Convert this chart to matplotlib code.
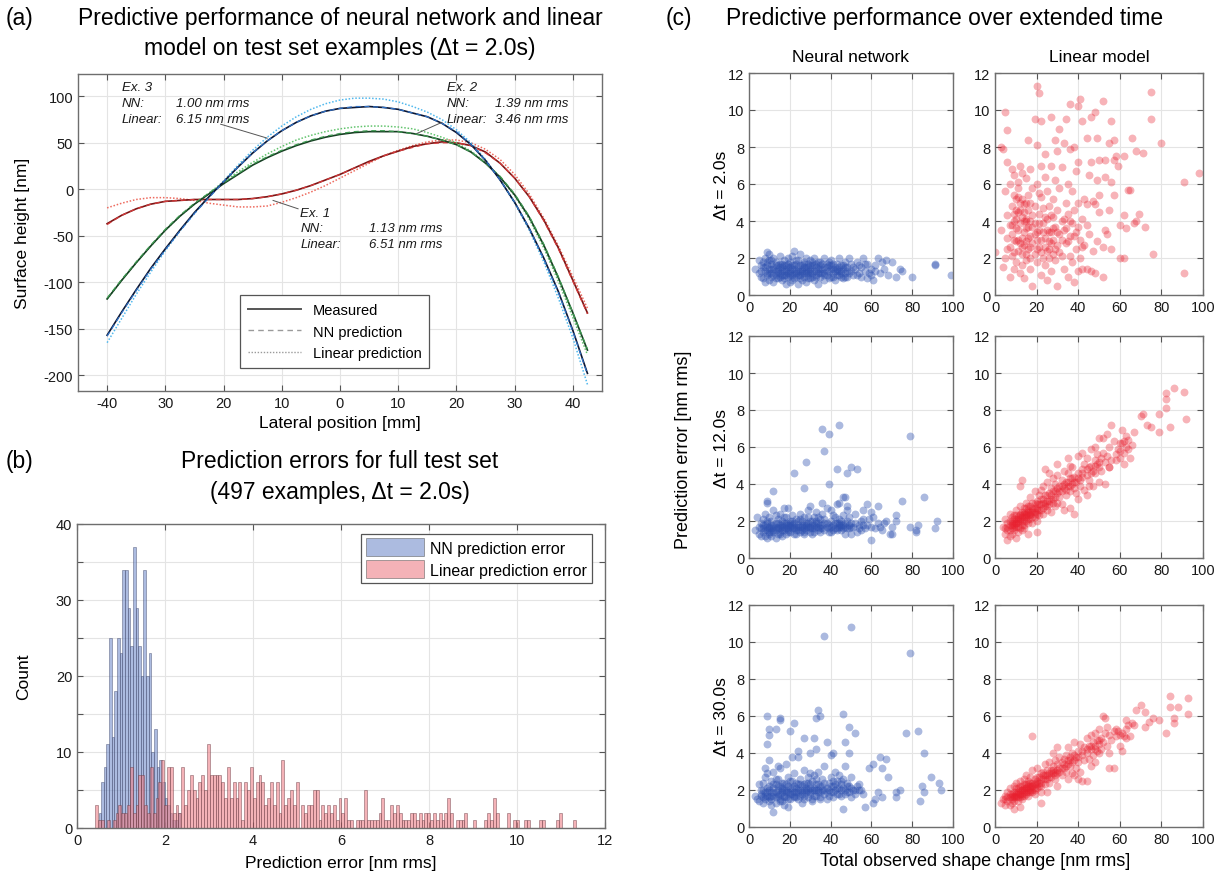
import numpy as np
import matplotlib
matplotlib.use("Agg")
import matplotlib.pyplot as plt
from matplotlib.patches import Patch
from matplotlib.lines import Line2D

plt.rcParams['font.family'] = ['Liberation Sans', 'DejaVu Sans']
plt.rcParams['axes.unicode_minus'] = False

# ---- (a) surface profiles, lateral position in mm, height in nm ----
pos = [-40, -37.5, -35, -32.5, -30, -27.5, -25, -22.5, -20, -17.5, -15, -12.5, -10, -7.5, -5, -2.5,
       0, 2.5, 5, 7.5, 10, 12.5, 15, 17.5, 20, 22.5, 25, 27.5, 30, 32.5, 35, 37.5, 40, 42.5]

ex1_meas = [-37, -28, -21, -16, -13, -12, -11, -11, -11, -11, -10, -8, -5, -1, 4, 10,
            16, 23, 30, 36, 41, 46, 49, 51, 50, 47, 40, 28, 12, -8, -33, -63, -98, -133]
ex1_nn = [-38, -28, -21, -16, -13, -12, -11, -11, -11, -11, -10, -8, -5, -1, 4, 10,
          16, 23, 29, 36, 41, 45, 49, 50, 50, 47, 39, 28, 12, -8, -34, -64, -99, -134]
ex1_lin = [-20, -15, -11, -9, -9, -10, -12, -15, -17, -19, -19, -18, -14, -9, -3, 4,
           12, 20, 28, 36, 42, 47, 51, 53, 53, 50, 43, 32, 16, -5, -31, -61, -94, -128]

ex2_meas = [-118, -98, -79, -61, -44, -29, -16, -5, 6, 16, 26, 34, 41, 47, 52, 56,
            59, 61, 62, 62, 62, 60, 57, 53, 48, 40, 28, 13, -6, -30, -60, -95, -133, -173]
ex2_nn = [-117, -97, -78, -60, -43, -28, -15, -4, 7, 17, 27, 35, 42, 48, 53, 57,
          60, 62, 63, 63, 62, 60, 57, 53, 48, 40, 28, 14, -5, -29, -59, -94, -133, -172]
ex2_lin = [-118, -98, -79, -61, -44, -29, -16, -4, 8, 19, 29, 38, 46, 53, 58, 62,
           65, 67, 68, 68, 67, 65, 61, 56, 50, 41, 29, 13, -7, -32, -63, -99, -138, -178]

ex3_meas = [-157, -132, -108, -85, -64, -44, -25, -8, 8, 24, 39, 52, 63, 72, 79, 84,
            87, 88, 89, 88, 86, 82, 78, 71, 61, 48, 31, 10, -14, -42, -74, -110, -152, -198]
ex3_nn = [-158, -133, -109, -86, -65, -45, -26, -9, 8, 24, 39, 52, 63, 72, 79, 84,
          87, 89, 89, 88, 86, 82, 78, 71, 62, 48, 31, 10, -14, -42, -75, -111, -153, -199]
ex3_lin = [-165, -139, -113, -89, -66, -45, -26, -8, 9, 26, 42, 56, 68, 78, 86, 92,
           96, 98, 98, 97, 94, 89, 83, 75, 64, 50, 32, 10, -15, -44, -78, -117, -160, -210]

pos_ticks = [-40, -30, -20, -10, 0, 10, 20, 30, 40]
pos_ticklabels = ['-40', '30', '20', '10', '0', '10', '20', '30', '40']

# ---- (b) histogram counts ----
nn_bin_start, nn_bin_w = 0.49, 0.06
nn_counts = [2, 6, 8, 11, 25, 12, 18, 25, 23, 34, 34, 29, 24, 37, 29, 24, 20, 34, 20, 23,
             10, 13, 8, 9, 6, 4, 3, 2, 1, 1, 2]
lin_bin_start, lin_bin_w = 0.42, 0.065
lin_counts = [3, 1, 1, 0, 1, 0, 1, 2, 3, 2,
              2, 3, 8, 2, 3, 7, 7, 3, 2, 8,
              2, 4, 6, 9, 3, 8, 8, 2, 3, 2,
              8, 3, 5, 7, 5, 4, 6, 7, 5, 11,
              7, 7, 7, 7, 6, 4, 8, 4, 6, 4,
              6, 1, 6, 5, 8, 4, 6, 7, 6, 3,
              4, 6, 3, 6, 2, 9, 3, 4, 5, 3,
              6, 0, 3, 2, 3, 3, 5, 5, 1, 3,
              2, 3, 2, 3, 1, 4, 2, 4, 1, 1,
              0, 1, 1, 1, 5, 1, 1, 1, 1, 2,
              4, 1, 1, 3, 2, 3, 2, 1, 1, 1,
              2, 2, 1, 2, 1, 2, 2, 1, 2, 1,
              2, 1, 2, 4, 2, 0, 1, 1, 1, 2,
              0, 0, 1, 0, 0, 0, 1, 2, 1, 4,
              2, 0, 0, 0, 2, 0, 1, 1, 0, 0,
              1, 1, 0, 0, 0, 1, 1, 0, 0, 0,
              0, 1, 2, 0, 0, 0, 0, 1]

# ---- (c) scatter: pairs of (total shape change, prediction error) ----
nn_2s = """3 1.4 5 1.9 5 1.2 6 1.6 6 1.0 7 1.5 7 0.9 7 1.8 8 1.3 8 0.7 8 2.0 9 1.1 9 1.6 9 2.3 10 1.4
10 0.8 10 1.9 10 2.2 11 1.2 11 1.7 11 1.0 12 1.5 12 0.7 12 2.0 13 1.3 13 1.1 13 1.8 14 1.6 14 0.9
14 1.4 15 1.2 15 2.1 15 1.0 16 1.5 16 1.7 16 0.8 17 1.3 17 1.9 17 1.1 18 1.4 18 0.6 18 1.6 19 1.2
19 2.0 19 1.0 20 1.5 20 0.7 20 1.8 20 1.3 21 1.1 21 1.6 21 2.1 22 1.4 22 0.9 22 2.4 23 1.2 23 1.7
23 1.0 24 1.5 24 0.6 24 1.9 25 1.3 25 1.1 25 2.2 26 1.6 26 0.8 26 1.4 27 1.2 27 1.8 27 1.0 28 1.5
28 0.7 28 2.0 29 1.3 29 1.1 29 1.7 30 1.4 30 0.9 30 1.9 30 1.2 31 1.6 31 1.0 32 1.3 32 2.0 32 0.8
33 1.5 33 1.1 34 1.2 34 1.8 34 0.6 35 1.4 35 1.0 36 1.7 36 1.2 37 1.5 37 0.8 37 2.0 38 1.3 38 1.1
39 1.6 39 0.9 40 1.4 40 1.9 40 1.0 41 1.2 42 1.5 42 0.8 43 1.7 43 1.1 44 1.3 44 2.0 45 1.0 45 1.6
46 1.4 46 0.9 47 1.8 47 1.2 48 1.5 48 1.0 49 2.0 50 1.3 50 1.7 51 1.1 52 1.4 53 1.8 54 1.2 55 1.5
55 1.0 56 2.0 57 1.3 58 0.9 58 1.7 60 1.4 60 1.1 61 0.8 62 1.6 63 2.0 64 1.2 65 1.8 66 1.4 67 1.9
68 1.1 70 1.8 72 1.0 74 1.4 75 1.3 80 1.0 91 1.7 91 1.6 99 1.1 12 1.4 14 1.2 16 1.3 18 1.1 22 1.2
24 1.3 26 1.2 28 1.3 33 1.3 35 1.2 38 1.5 41 1.4 44 1.5 10 1.2 20 1.1 30 1.6
6 1.3 8 1.5 9 1.2 11 1.4 12 1.1 13 1.6 14 1.3 15 1.5 16 1.1 17 1.6 18 1.3 19 1.5 20 1.2 21 1.4
22 1.6 23 1.3 24 1.1 25 1.6 26 1.3 27 1.5 28 1.2 29 1.5 30 1.3 31 1.2 32 1.6 33 1.0 34 1.4 35 1.6
36 1.4 37 1.2 38 1.7 39 1.3 40 1.6 41 1.0 42 1.3 43 1.4 44 1.1 45 1.3 46 1.6 47 1.5 48 1.3 9 1.8
11 1.9 13 0.9 15 1.7 17 0.9 19 1.7 21 0.8 23 1.9 25 0.9 27 1.7 29 0.9 31 1.8 33 1.7 35 1.8 37 1.1
39 1.8 41 1.7 43 1.3 45 1.2 47 1.0 49 1.2 51 1.5 53 1.1 54 1.6 57 1.7 59 1.2 62 1.3"""

lin_2s = """0 2.3 3 3.5 3 8.0 4 1.5 4 7.9 5 2.0 5 9.9 5 5.6 6 3.1 6 8.9 6 7.2 6 4.3 7 2.6 7 6.0 7 3.8 7 1.0
8 4.8 8 2.1 8 6.8 8 3.3 9 5.4 9 1.4 9 4.0 9 6.5 10 2.9 10 5.2 10 3.6 10 1.8 11 4.5 11 2.4 11 6.1
11 3.0 12 5.0 12 1.2 12 3.9 12 7.0 13 2.2 13 4.2 13 6.6 13 1.6 14 3.4 14 4.9 14 0.9 14 2.7 15 4.1
15 6.3 15 1.9 15 3.6 16 5.4 16 2.5 16 4.6 16 8.4 17 3.2 17 1.4 17 6.8 17 4.0 18 2.8 18 5.8 18 0.5
18 3.7 19 4.8 19 9.5 19 2.2 19 3.3 20 3.0 20 6.0 20 1.8 20 11.3 20 8.1 21 4.4 21 2.6 21 10.9
21 3.5 22 5.3 22 1.1 22 7.0 22 9.4 23 3.9 23 2.0 23 4.7 24 3.1 24 6.4 24 1.6 24 7.6 25 4.1 25 2.4
25 5.6 25 0.8 26 3.4 26 4.8 26 2.9 27 7.0 27 4.3 27 1.3 27 9.6 28 3.0 28 5.2 28 2.2 29 6.2 29 3.7
29 8.4 29 1.9 30 4.6 30 2.7 30 7.8 30 0.5 31 3.3 31 5.8 31 9.0 32 4.0 32 2.1 32 6.9 33 3.5 33 8.2
33 1.4 34 5.0 34 2.8 34 9.5 35 4.4 35 1.0 35 6.0 36 3.2 36 10.3 36 7.9 36 2.1 37 5.6 37 1.8 37 3.9
38 8.0 38 4.6 38 0.7 39 2.5 39 6.7 39 3.4 40 10.2 40 1.3 40 5.0 40 7.2 41 10.6 41 3.0 41 2.0
42 4.1 42 9.4 42 1.4 43 5.2 43 2.7 44 4.9 44 8.5 44 1.4 45 6.5 45 3.3 46 7.2 46 9.6 46 1.3 47 5.1
47 2.4 48 4.9 48 9.9 48 1.2 49 8.5 49 6.2 49 2.9 50 5.4 50 7.3 50 4.5 52 10.5 52 1.0 52 2.6
53 7.3 53 6.4 53 3.5 54 3.3 55 4.6 55 8.2 56 9.4 56 6.1 56 2.5 57 7.3 57 5.4 57 8.4 58 7.5 59 7.0
60 3.8 60 2.0 62 7.5 62 4.3 62 2.0 63 3.6 64 5.7 65 5.7 66 8.5 67 3.9 68 7.8 68 4.0 69 4.4 71 7.7
72 3.7 75 11.0 75 9.5 76 2.2 80 8.2 91 6.1 91 1.2 98 6.6 12 4.6 14 4.5 15 4.0 16 3.1 20 3.4 24 2.6
26 2.5 28 4.2 13 5.2 11 5.3 10 4.1 9 3.0 15 2.2 17 2.0 22 3.0 27 3.4
6 2.5 8 3.8 9 2.3 10 4.6 11 3.5 12 2.8 13 3.1 14 4.0 15 2.9 16 3.7 17 2.6 18 4.3 19 3.9 20 2.5
21 3.9 22 2.3 23 3.4 24 4.2 25 3.5 26 2.0 27 2.8 28 3.6 29 2.5 30 3.4 31 2.3 32 3.0 33 4.1 34 3.6
35 2.9 36 4.0 38 3.2 40 3.7 42 2.6 44 3.8 13 2.6 17 5.0 21 5.5 9 4.4 11 5.8 15 5.0"""

nn_12s = """3 1.5 4 2.2 5 1.3 5 1.7 6 1.9 6 1.2 7 1.6 7 2.1 7 1.4 8 1.8 8 1.2 8 2.4 9 1.5 9 1.9 9 1.1
10 1.7 10 2.2 10 1.3 11 1.6 11 2.0 11 1.2 12 1.8 12 1.4 12 2.6 13 1.5 13 1.9 13 1.1 14 2.1 14 1.6
14 1.3 15 1.8 15 2.4 15 1.4 16 1.7 16 2.0 16 1.2 17 1.5 17 2.7 17 1.9 18 1.6 18 2.2 18 1.3 19 1.8
19 2.7 19 1.5 20 2.0 20 1.4 20 1.7 21 1.6 21 2.3 22 1.9 22 1.3 23 1.7 23 2.1 24 1.5 24 1.8 25 2.4
25 1.4 26 1.7 26 2.0 27 1.6 27 2.2 27 1.3 28 1.9 28 1.5 29 2.6 29 1.7 30 2.0 30 1.4 30 2.8 31 1.8
31 1.6 32 2.2 32 1.4 33 1.7 33 2.5 34 1.9 34 1.5 35 2.1 35 1.6 36 1.8 36 2.4 37 1.5 38 1.9 38 2.7
39 1.6 40 2.0 40 1.4 41 1.8 42 2.2 42 1.6 43 1.9 43 2.9 44 1.7 44 2.1 45 1.5 45 2.0 46 1.8 46 2.3
47 1.3 47 1.9 48 1.6 48 2.6 49 1.8 49 2.2 50 1.9 51 1.7 52 2.4 53 1.4 54 1.8 55 2.0 56 2.1 57 1.6
58 1.8 59 2.1 60 1.0 60 1.7 61 2.2 62 1.6 63 1.9 64 1.7 65 1.5 66 1.9 67 2.0 70 1.3 70 1.7 72 2.3
79 1.7 82 1.5 82 1.4 83 1.8 91 1.6 92 2.0 36 7.0 44 7.2 39 6.7 79 6.6 37 5.8 28 5.2 43 4.8 50 4.9
53 4.8 48 4.6 22 4.6 27 3.8 39 4.0 12 3.6 9 3.0 9 3.1 36 3.0 46 3.3 47 3.3 75 3.1 86 3.3 58 2.9
63 2.8 40 2.6 44 3.0 48 2.8 56 2.6 60 2.5 69 1.3 72 2.0 55 1.5 50 1.3 14 1.7 16 1.8 18 1.9 20 1.8
22 1.6 24 1.7 28 1.8 30 1.7 32 1.8 34 1.7 12 1.6 10 1.6 26 1.8 44 1.9 45 1.8
6 1.6 7 1.8 8 1.5 9 1.7 10 1.4 11 1.8 12 1.5 13 1.7 14 1.9 15 1.6 16 1.5 17 1.7 18 1.8 19 1.6
20 1.9 21 1.8 22 1.7 23 1.5 24 2.0 25 1.7 26 1.5 27 1.8 28 1.7 29 1.9 30 1.6 31 2.0 32 1.6 33 1.9
34 2.2 35 1.8 36 1.6 37 1.9 38 1.7 39 1.8 40 1.7 41 1.5 42 1.9 43 1.6 44 1.8 45 1.7 46 1.6 47 1.7
48 2.0 49 1.6 50 1.7 52 1.9 54 1.6 56 1.8 13 2.3 17 2.2 21 2.0 25 2.1 29 2.2 33 2.0 37 2.1 41 2.3
9 2.0 11 1.4 15 1.3 19 1.4 23 1.3 27 1.4 31 1.3 35 1.4 39 1.4 43 1.5"""

lin_12s = """4 1.7 5 2.1 5 1.3 6 1.5 6 1.9 6 1.0 7 1.8 7 1.2 7 2.4 8 1.6 8 2.0 8 1.3 9 1.9 9 2.3 9 1.5
10 2.1 10 1.7 10 2.6 11 1.4 11 2.2 11 1.9 12 2.3 12 1.6 12 2.8 13 2.0 13 2.5 13 1.5 14 2.2 14 2.7
14 1.8 15 2.4 15 2.0 15 3.0 16 2.6 16 1.9 16 2.3 17 2.1 17 2.8 17 3.3 18 2.5 18 1.9 18 3.0 19 2.7
19 2.2 19 3.6 20 2.4 20 3.1 20 2.0 21 2.9 21 3.4 21 2.3 22 2.6 22 3.7 22 3.2 23 3.0 23 2.4 23 3.9
24 2.8 24 3.4 25 3.1 25 4.1 25 2.6 26 3.5 26 2.9 26 4.6 27 3.2 27 3.8 27 2.5 28 3.6 28 3.0 28 4.3
29 3.3 29 4.0 29 2.8 30 3.5 30 4.5 30 3.0 31 3.9 31 3.3 32 4.2 32 3.6 32 2.9 33 4.7 33 3.8 34 3.4
34 4.1 35 3.9 35 4.6 36 3.6 36 4.3 36 2.7 37 4.0 37 4.9 38 3.8 38 4.4 39 4.1 39 3.5 40 4.6 40 5.5
41 4.2 41 3.9 42 4.8 42 4.4 43 5.1 43 3.7 44 4.5 44 5.4 45 4.9 45 4.2 46 5.0 46 5.9 47 4.7 47 3.9
48 5.3 48 4.6 49 5.1 49 5.6 50 4.9 50 6.5 51 5.4 51 4.7 52 5.7 53 4.0 53 5.2 54 5.5 55 6.0 55 4.9
56 5.3 57 6.3 58 5.6 59 5.9 60 5.4 61 6.2 62 5.7 63 6.0 52 6.5 54 6.7 56 7.2 60 6.2 61 6.9 62 6.3
63 6.6 64 5.9 65 5.4 66 6.1 67 6.8 70 7.7 71 7.8 73 7.2 75 7.1 79 7.8 79 6.8 82 8.9 82 8.6 82 8.1
84 7.1 86 9.2 91 9.0 92 7.5 45 3.9 50 4.1 55 4.9 58 5.3 60 5.8 62 5.1 64 6.4 42 5.7 48 6.0 36 5.0
12 3.9 24 4.8 30 5.1 35 5.4 33 2.6 40 3.2 44 3.4 38 2.4 20 1.4 16 1.3 10 1.1 14 1.6 13 4.2 8 1.8
9 1.7 10 1.9 11 2.0 12 2.1 13 2.3 14 2.4 15 2.2 16 2.5 17 2.4 18 2.6 19 2.5 20 2.7
5 1.6 6 1.7 7 1.5 7 2.0 8 1.9 8 2.2 9 1.8 9 2.1 10 1.9 10 2.3 11 2.1 11 1.7 12 2.0 12 2.4 13 1.8
13 2.2 14 2.0 14 2.5 15 2.3 15 2.7 16 2.1 16 2.8 17 2.5 17 2.3 18 2.7 18 2.2 19 2.4 19 3.0 20 2.6
20 2.9 21 2.6 22 2.9 23 3.2 23 2.7 24 3.0 25 2.8 25 3.4 26 3.1 27 3.4 28 3.2 29 3.6 30 3.8 31 3.6
32 3.9 33 4.0 34 3.7 35 4.1 36 3.9 37 4.3 38 4.1 40 4.3 42 4.6 44 4.8 46 4.6 48 5.0 50 5.2"""

nn_30s = """3 1.7 4 1.5 5 2.3 5 1.4 6 2.0 6 1.8 7 1.6 7 2.4 7 1.3 8 1.9 8 2.7 8 1.5 9 2.1 9 1.7 9 2.9
10 1.6 10 2.2 10 1.4 11 1.9 11 2.5 11 1.2 12 1.7 12 2.1 12 3.0 13 1.6 13 2.3 13 1.3 14 2.0 14 1.8
14 2.6 15 1.5 15 2.2 15 3.2 16 1.9 16 1.4 16 2.4 17 1.7 17 2.0 17 1.2 18 2.3 18 3.4 18 1.6 19 1.9
19 2.7 19 1.1 20 2.1 20 1.5 20 2.5 21 1.8 21 3.8 22 2.2 22 1.6 22 2.9 23 1.9 23 2.4 24 1.5 24 2.0
25 2.6 25 1.7 26 2.2 26 1.3 27 2.0 27 3.1 27 1.7 28 2.4 28 1.9 29 2.7 29 1.6 30 2.1 30 2.9 30 1.8
31 2.5 31 1.5 32 2.0 32 2.8 33 1.7 33 2.3 34 3.0 34 1.9 35 2.2 35 1.6 36 2.6 36 2.0 37 1.8 37 3.3
38 2.1 38 1.5 39 2.4 40 1.9 40 2.7 41 2.2 41 1.6 42 2.0 42 3.0 43 2.5 43 1.8 44 2.1 44 2.8 45 1.7
45 2.3 46 2.6 47 2.0 47 3.3 48 1.9 48 2.4 49 2.2 50 1.6 50 2.7 51 2.0 52 1.8 53 2.2 54 2.0 55 2.0
56 1.8 37 10.3 50 10.8 79 9.4 9 6.0 15 5.9 15 5.8 22 5.6 34 6.3 33 5.9 35 6.0 46 6.1 49 5.4 52 5.1
10 5.3 13 5.3 10 5.0 20 5.2 77 5.1 83 5.2 9 4.5 27 4.8 32 4.8 38 4.6 47 4.6 30 4.0 33 4.2 40 3.9
41 4.0 49 4.0 86 4.0 24 4.1 24 3.8 14 3.3 10 3.6 8 3.2 59 3.2 64 3.8 67 3.7 61 3.4 65 3.2 89 2.7
93 2.4 94 2.0 85 2.2 86 1.9 84 1.4 72 1.9 72 1.6 74 2.0 68 2.7 65 1.6 63 1.9 61 1.3 62 1.5 57 1.1
46 1.0 12 0.8 16 2.0 18 1.9 20 1.8 22 1.9 26 1.9 28 2.0 30 1.9 32 2.1 12 1.9 14 1.7 24 1.9 34 2.0
6 1.7 7 2.0 8 1.7 9 1.9 10 2.0 11 1.7 12 2.3 13 1.9 14 2.2 15 1.8 16 2.1 17 1.6 18 2.0 19 2.2
20 1.9 21 2.1 22 1.7 23 2.1 24 2.3 25 2.0 26 1.8 27 2.3 28 2.1 29 2.0 30 2.3 31 2.0 32 1.7 33 2.0
34 2.3 35 1.9 36 2.2 37 2.0 38 1.9 39 2.0 40 2.2 41 1.9 42 2.3 43 2.1 44 1.8 45 2.0 46 2.1 47 1.8
48 2.2 49 1.9 50 2.1 52 2.0 54 2.3 11 1.5 15 1.4 19 1.5 23 1.6 27 1.5 31 1.4 35 1.5 39 1.7 13 2.6
17 2.4 21 2.5 25 2.3 29 2.4 33 2.6 37 2.4 41 2.5 45 2.5"""

lin_30s = """3 1.3 4 1.5 5 1.2 5 1.7 6 1.4 6 1.9 7 1.6 7 1.2 7 2.1 8 1.5 8 1.8 8 1.3 9 1.7 9 2.2 9 1.4
10 1.9 10 1.6 10 2.4 11 1.8 11 1.4 11 2.1 12 2.0 12 1.6 12 2.5 13 1.8 13 2.2 13 1.5 14 2.1 14 2.6
14 1.7 15 1.9 15 2.3 15 2.8 16 2.0 16 1.7 16 2.5 17 2.2 17 1.9 17 2.7 18 2.4 18 2.0 18 3.1 19 2.3
19 1.8 19 2.6 20 2.5 20 2.1 20 3.2 21 2.7 21 2.2 22 2.4 22 2.9 22 1.9 23 2.6 23 3.0 24 2.3 24 2.8
24 3.4 25 2.6 25 3.1 26 2.9 26 2.4 26 3.5 27 3.1 27 2.7 28 3.3 28 2.9 28 4.0 29 3.0 29 3.6 29 2.6
30 3.4 30 2.9 30 4.3 31 3.2 31 3.8 32 3.5 32 2.8 33 3.7 33 3.2 34 3.9 34 3.0 35 3.6 35 4.3 36 3.3
36 3.8 37 4.0 37 2.9 38 3.6 38 4.6 39 3.8 39 3.2 40 4.1 40 3.5 41 4.5 41 3.0 42 3.9 42 2.5 43 4.3
43 3.6 44 4.8 44 4.0 45 3.7 45 4.4 46 4.2 46 5.0 47 3.9 47 4.6 48 4.4 48 5.1 49 4.1 49 4.7 50 4.5
50 5.3 51 4.8 51 4.2 52 4.6 53 5.1 54 4.4 54 5.4 55 5.0 56 4.7 57 5.2 58 4.9 59 5.2 60 5.0 61 4.1
62 4.9 63 5.3 64 5.5 65 4.9 84 7.1 93 7.0 88 6.5 84 6.5 93 6.1 86 5.9 86 5.6 82 5.1 79 5.8 76 5.9
74 5.7 72 5.4 72 6.2 70 6.6 68 6.3 67 5.5 66 5.6 63 5.8 61 5.1 58 5.3 57 3.2 55 3.2 53 5.9 52 6.0
18 4.9 44 2.5 40 2.6 46 3.3 38 2.8 60 4.4 63 4.8 55 4.0 50 4.0 48 3.5 35 2.6 30 2.2 25 1.9 22 1.3
12 1.1 9 1.0 8 1.6 9 1.9 10 1.7 11 1.6 12 1.8 13 2.0 14 1.9 15 2.1 16 2.2 17 2.0 18 2.2 19 2.1
5 1.5 6 1.6 7 1.8 8 1.7 9 1.6 10 1.8 10 2.1 11 1.9 12 1.8 12 2.2 13 2.0 13 1.7 14 2.0 14 2.3 15 2.1
15 1.8 16 2.3 16 1.9 17 2.1 17 2.4 18 2.2 18 1.9 19 2.4 19 2.0 20 2.3 20 2.7 21 2.4 22 2.6 22 2.2
23 2.8 24 2.6 25 2.8 26 2.7 27 2.9 28 3.1 29 2.8 30 3.1 31 3.0 32 3.2 33 3.4 34 3.3 35 3.4 36 3.6
37 3.5 38 3.9 40 3.8 42 4.1 44 4.2 46 4.4 48 4.2 50 4.7"""


def pairs(text):
    v = np.array(text.split(), dtype=float).reshape(-1, 2)
    return v[:, 0], v[:, 1]


def matlab_look(ax, labelsize=10.5):
    ax.grid(True, color='#e4e4e4', lw=0.8)
    ax.set_axisbelow(True)
    ax.tick_params(direction='in', top=True, right=True, length=4, width=0.8,
                   color='#555555', labelsize=labelsize, labelcolor='#1a1a1a')
    for s in ax.spines.values():
        s.set_color('#6e6e6e')
        s.set_linewidth(1.0)


W, H = 1220, 878
fig = plt.figure(figsize=(12.2, 8.78), dpi=100)


def box(x0, y0, x1, y1):
    # pixel box (top-left origin) -> figure fraction rect
    return [x0 / W, 1 - y1 / H, (x1 - x0) / W, (y1 - y0) / H]


def ftext(x, y, s, **kw):
    fig.text(x / W, 1 - y / H, s, **kw)


# ---------------- panel (a) ----------------
ax_a = fig.add_axes(box(78, 75, 602, 392))
matlab_look(ax_a)
curves = [
    (ex1_meas, ex1_nn, ex1_lin, '#7a1414', '#d23a3a', '#ee6a5e'),
    (ex2_meas, ex2_nn, ex2_lin, '#163f22', '#3f9b52', '#63c46e'),
    (ex3_meas, ex3_nn, ex3_lin, '#0b1633', '#2f6fc4', '#4fb8ee'),
]
for meas, nn, lin, c_m, c_nn, c_lin in curves:
    ax_a.plot(pos, lin, ls=(0, (1, 1.2)), color=c_lin, lw=1.1)
    ax_a.plot(pos, meas, color=c_m, lw=1.2)
    ax_a.plot(pos, nn, ls=(0, (4, 3)), color=c_nn, lw=0.9)
ax_a.set_xlim(-45, 45)
ax_a.set_ylim(-217, 124)
ax_a.set_xticks(pos_ticks)
ax_a.set_xticklabels(pos_ticklabels)
ax_a.set_yticks([-200, -150, -100, -50, 0, 50, 100])
ax_a.set_xlabel('Lateral position [mm]', fontsize=12.5, labelpad=4)
ax_a.set_ylabel('Surface height [nm]', fontsize=12.5, labelpad=10)

ann = dict(fontsize=9.5, fontstyle='italic', color='#1a1a1a')
for (x0, x1, y0, name, v_nn, v_lin) in [(-37.5, -15.5, 110, 'Ex. 3', '1.00 nm rms', '6.15 nm rms'),
                                         (18.3, 39.3, 110, 'Ex. 2', '1.39 nm rms', '3.46 nm rms'),
                                         (-6.8, 17.5, -25, 'Ex. 1', '1.13 nm rms', '6.51 nm rms')]:
    ax_a.text(x0, y0, name, va='center', **ann)
    ax_a.text(x0, y0 - 17, 'NN:', va='center', **ann)
    ax_a.text(x1, y0 - 17, v_nn, va='center', ha='right', **ann)
    ax_a.text(x0, y0 - 34, 'Linear:', va='center', **ann)
    ax_a.text(x1, y0 - 34, v_lin, va='center', ha='right', **ann)
ax_a.plot([-20.5, -12.5], [70, 55], color='#555555', lw=0.7)
ax_a.plot([17.5, 13.2], [72, 60], color='#555555', lw=0.7)
ax_a.plot([-7.2, -11.5], [-21, -12], color='#555555', lw=0.7)

leg_a = ax_a.legend(handles=[Line2D([], [], color='#555555', lw=1.4),
                             Line2D([], [], color='#9a9a9a', lw=1.0, ls=(0, (4, 3))),
                             Line2D([], [], color='#9a9a9a', lw=1.0, ls=(0, (1, 1.2)))],
                    labels=['Measured', 'NN prediction', 'Linear prediction'],
                    loc='lower left', bbox_to_anchor=(0.296, 0.05), fontsize=10.5,
                    fancybox=False, framealpha=1, edgecolor='#555555',
                    handlelength=3.6, borderpad=0.55, labelspacing=0.5)
leg_a.get_frame().set_linewidth(0.9)

# ---------------- panel (b) ----------------
ax_b = fig.add_axes(box(77, 525, 605, 829))
matlab_look(ax_b)
nn_edges = nn_bin_start + nn_bin_w * np.arange(len(nn_counts))
lin_edges = lin_bin_start + lin_bin_w * np.arange(len(lin_counts))
nn_face = (0.46, 0.56, 0.80)
lin_face = (0.93, 0.50, 0.53)
ax_b.bar(nn_edges, nn_counts, width=nn_bin_w, align='edge', color=nn_face, alpha=0.6,
         edgecolor=(0.25, 0.28, 0.42), linewidth=0.5)
ax_b.bar(lin_edges, lin_counts, width=lin_bin_w, align='edge', color=lin_face, alpha=0.6,
         edgecolor=(0.40, 0.22, 0.25), linewidth=0.5)
ax_b.set_xlim(0, 12)
ax_b.set_ylim(0, 40)
ax_b.set_xticks(range(0, 13, 2))
ax_b.set_yticks(range(0, 41, 5))
ax_b.set_yticklabels([str(v) if v % 10 == 0 else '' for v in range(0, 41, 5)])
ax_b.set_xlabel('Prediction error [nm rms]', fontsize=12.5, labelpad=6)
ax_b.set_ylabel('Count', fontsize=12.5, labelpad=18)
leg_b = ax_b.legend(handles=[Patch(facecolor=nn_face, alpha=0.6, edgecolor='#555555', lw=0.6),
                             Patch(facecolor=lin_face, alpha=0.6, edgecolor='#555555', lw=0.6)],
                    labels=['NN prediction error', 'Linear prediction error'],
                    loc='upper right', bbox_to_anchor=(0.99, 0.995), fontsize=11.5,
                    fancybox=False, framealpha=1, edgecolor='#555555',
                    handlelength=3.6, handleheight=1.35, borderpad=0.3, labelspacing=0.25,
                    handletextpad=0.4)
leg_b.get_frame().set_linewidth(0.9)

# ---------------- panel (c) ----------------
rows = [(74, 296), (337, 559), (606, 828)]
cols = [(749, 953), (995, 1203)]
data = [(nn_2s, lin_2s), (nn_12s, lin_12s), (nn_30s, lin_30s)]
blue, red = '#2f52b0', '#e8202f'
for r, (y0, y1) in enumerate(rows):
    for c, (x0, x1) in enumerate(cols):
        ax = fig.add_axes(box(x0, y0, x1, y1))
        matlab_look(ax, labelsize=10.5)
        xs, ys = pairs(data[r][c])
        ax.scatter(xs, ys, s=32, color=blue if c == 0 else red,
                   alpha=0.4 if c == 0 else 0.34, linewidths=0)
        ax.set_xlim(0, 100)
        ax.set_ylim(0, 12)
        ax.set_xticks(range(0, 101, 20))
        ax.set_yticks(range(0, 13, 2))

# ---------------- figure texts ----------------
tfs = 16.5
ftext(6, 18, '(a)', fontsize=tfs, va='center')
ftext(340, 18, 'Predictive performance of neural network and linear', fontsize=tfs, ha='center', va='center')
ftext(340, 48, 'model on test set examples (\u0394t = 2.0s)', fontsize=tfs, ha='center', va='center')
ftext(6, 462, '(b)', fontsize=tfs, va='center')
ftext(340, 462, 'Prediction errors for full test set', fontsize=tfs, ha='center', va='center')
ftext(340, 493, '(497 examples, \u0394t = 2.0s)', fontsize=tfs, ha='center', va='center')
ftext(666, 18, '(c)', fontsize=tfs, va='center')
ftext(945, 18, 'Predictive performance over extended time', fontsize=tfs, ha='center', va='center')
ftext(851, 58, 'Neural network', fontsize=12.5, ha='center', va='center')
ftext(1099, 58, 'Linear model', fontsize=12.5, ha='center', va='center')
ftext(722, 185, '\u0394t = 2.0s', fontsize=12.5, rotation=90, ha='center', va='center')
ftext(722, 448, '\u0394t = 12.0s', fontsize=12.5, rotation=90, ha='center', va='center')
ftext(722, 717, '\u0394t = 30.0s', fontsize=12.5, rotation=90, ha='center', va='center')
ftext(683, 450, 'Prediction error [nm rms]', fontsize=13, rotation=90, ha='center', va='center')
ftext(975, 862, 'Total observed shape change [nm rms]', fontsize=13, ha='center', va='center')

fig.savefig('out.png', dpi=100)
